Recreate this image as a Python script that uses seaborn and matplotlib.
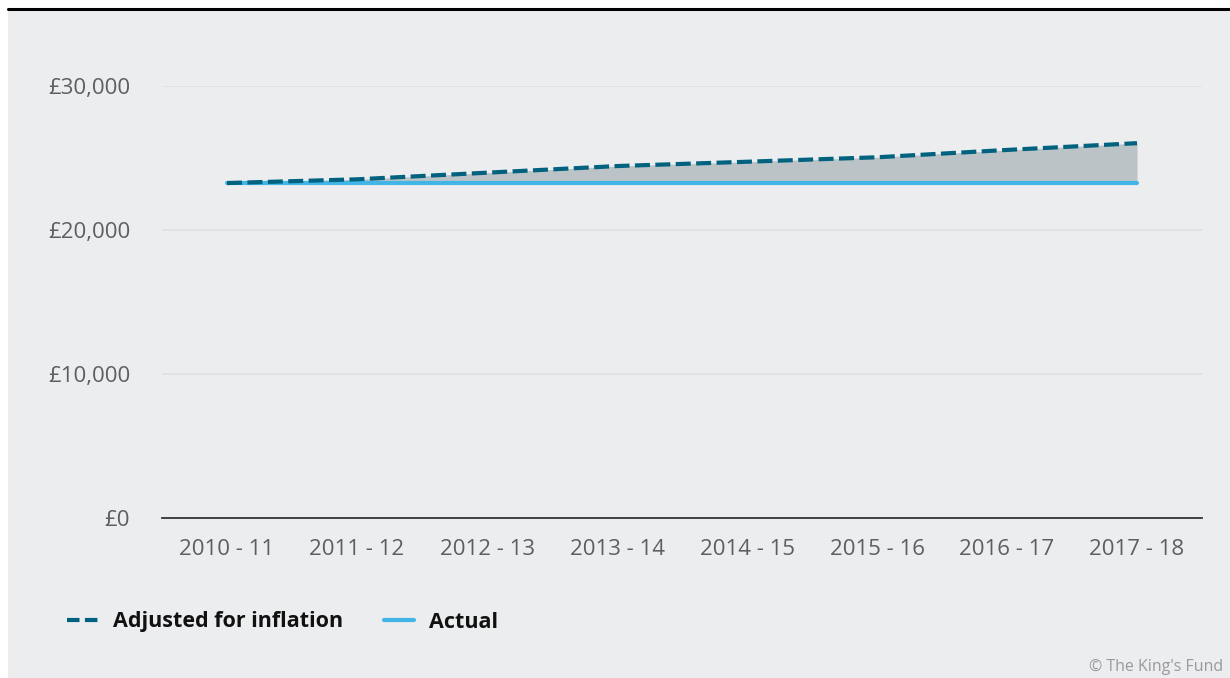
import matplotlib
matplotlib.use("Agg")
import matplotlib.pyplot as plt
import seaborn as sns
import pandas as pd
from matplotlib.lines import Line2D
from matplotlib.patches import Rectangle
from matplotlib.ticker import FuncFormatter

# data
years = ["2010 - 11", "2011 - 12", "2012 - 13", "2013 - 14",
         "2014 - 15", "2015 - 16", "2016 - 17", "2017 - 18"]
adjusted = [23260, 23520, 23980, 24440, 24740, 25050, 25560, 26030]
actual = [23260, 23260, 23260, 23260, 23260, 23260, 23260, 23260]

BG = "#ECEDEF"
DARK = "#00627F"
LIGHT = "#41B6E6"
FILL = "#BCC3C7"

df = pd.DataFrame({
    "year": years * 2,
    "value": adjusted + actual,
    "series": ["Adjusted for inflation"] * len(years) + ["Actual"] * len(years),
})

sns.set_style("white")
plt.rcParams["font.family"] = ["Open Sans", "DejaVu Sans"]

fig = plt.figure(figsize=(12.3, 6.78), dpi=100)
fig.patch.set_facecolor("white")
# grey panel and black top rule
fig.add_artist(Rectangle((8 / 1230, 0), 1 - 8 / 1230, 1 - 10 / 678,
                         transform=fig.transFigure, facecolor=BG, edgecolor="none", zorder=-10))
fig.add_artist(Line2D([8 / 1230, 1], [1 - 9 / 678, 1 - 9 / 678], transform=fig.transFigure,
                      color="black", lw=2.2))

ax = fig.add_axes([162 / 1230, (678 - 518) / 678, (1202 - 162) / 1230, (518 - 86) / 678])
ax.set_facecolor(BG)

ax.fill_between(range(len(years)), actual, adjusted, color=FILL, lw=0, zorder=1)
sns.lineplot(data=df[df.series == "Actual"], x="year", y="value", ax=ax,
             color=LIGHT, lw=3, zorder=2, solid_capstyle="round")
sns.lineplot(data=df[df.series == "Adjusted for inflation"], x="year", y="value", ax=ax,
             color=DARK, lw=3, zorder=3, dashes=False, linestyle=(0, (3.6, 1.3)))

ax.set_xlim(-0.5, 7.5)
ax.set_ylim(0, 30000)
ax.set_yticks([0, 10000, 20000, 30000])
ax.yaxis.set_major_formatter(FuncFormatter(lambda v, p: f"£{v:,.0f}"))
ax.grid(axis="y", color="#DFE0E3", lw=1.2)
ax.set_axisbelow(True)
for s in ["top", "right", "left"]:
    ax.spines[s].set_visible(False)
ax.spines["bottom"].set_color("#333333")
ax.spines["bottom"].set_linewidth(1.3)
ax.tick_params(axis="both", length=0, labelsize=16, labelcolor="#5E5E5E")
ax.tick_params(axis="y", pad=23)
ax.tick_params(axis="x", pad=15)
ax.set_xlabel("")
ax.set_ylabel("")

handles = [Line2D([], [], color=DARK, lw=3, linestyle=(0, (3.0, 1.3))),
           Line2D([], [], color=LIGHT, lw=3)]
fig.legend(handles, ["Adjusted for inflation", "Actual"], loc="center left",
           bbox_to_anchor=(48 / 1230, 1 - 622 / 678), ncol=2, frameon=False,
           handlelength=1.4, handletextpad=0.7, columnspacing=1.9,
           labelcolor="#111111", prop={"weight": "bold", "size": 15.5})

fig.text(1223 / 1230, 1 - 667 / 678, "© The King's Fund", ha="right", va="center",
         color="#9A9A9A", fontsize=11.5)

fig.savefig("out.png", dpi=100, facecolor=fig.get_facecolor())
